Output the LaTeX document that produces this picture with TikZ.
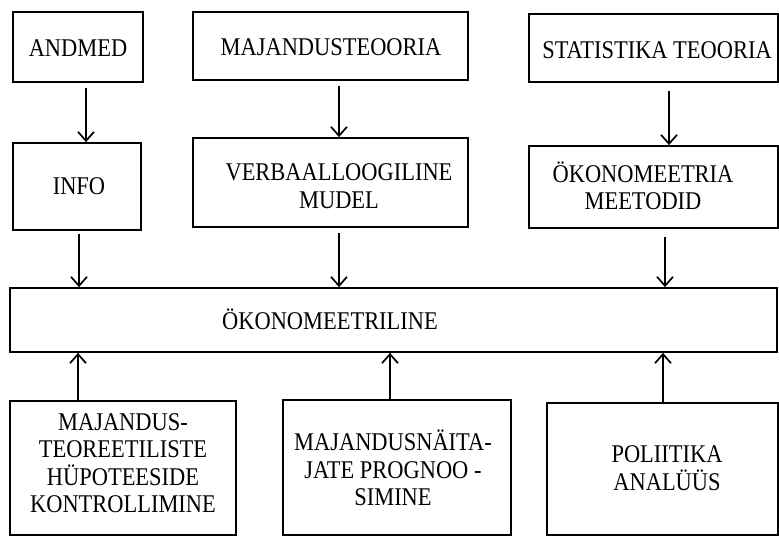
\documentclass[tikz,border=0pt]{standalone}
\usepackage{fontspec}
\setmainfont{Liberation Serif}[FakeStretch=0.88]
\usetikzlibrary{arrows.meta}
\begin{document}
\begin{tikzpicture}[x=1pt,y=-1pt,
  box/.style={draw,line width=1.8pt,inner sep=0pt,minimum width=#1},
  txt/.style={align=center,inner sep=0pt,font=\fontsize{25.5}{27.5}\selectfont},
  arr/.style={line width=1.7pt,-{Straight Barb[length=9pt,width=16pt,line width=1.7pt]}}]
\useasboundingbox (0,0) rectangle (779,537);

% top row: sources
\node[box=130pt,minimum height=70pt] (andmed) at (78,47) {};
\node[box=275pt,minimum height=68pt] (majteo) at (330.5,46) {};
\node[box=249pt,minimum height=68pt] (stat) at (653.5,48) {};
\node[txt] (tandmed) at (78,48) {ANDMED};
\node[txt] (tmajteo) at (331,47) {MAJANDUSTEOORIA};
\node[txt] (tstat) at (657,50) {STATISTIKA TEOORIA};

% second row
\node[box=128pt,minimum height=87pt] (info) at (77,186.5) {};
\node[box=275pt,minimum height=89pt] (verbaal) at (330.5,182.5) {};
\node[box=249pt,minimum height=82pt] (meet) at (653.5,187) {};
\node[txt] (tinfo) at (79,186) {INFO};
\node[txt] (tverbaal) at (339,186) {VERBAALLOOGILINE\\MUDEL};
\node[txt] (tmeet) at (643,186) {ÖKONOMEETRIA\\MEETODID};

% central box
\node[box=767pt,minimum height=64pt] (oko) at (393.5,320) {};
\node[txt] (toko) at (330,319) {ÖKONOMEETRILINE};

% bottom row: applications
\node[box=226pt,minimum height=134pt] (b1) at (123,468) {};
\node[box=228pt,minimum height=135pt] (b2) at (397,467.5) {};
\node[box=231pt,minimum height=132pt] (b3) at (662.5,469) {};
\node[txt] (tb1) at (123,463) {MAJANDUS-\\TEOREETILISTE\\HÜPOTEESIDE\\KONTROLLIMINE};
\node[txt] (tb2) at (393,468) {MAJANDUSNÄITA-\\JATE PROGNOO -\\SIMINE};
\node[txt] (tb3) at (667,468) {POLIITIKA\\ANALÜÜS};

% arrow columns
\coordinate (x1) at (86,0);
\coordinate (x2) at (339,0);
\coordinate (x3) at (669,0);
\coordinate (y1) at (79,0);
\coordinate (y2) at (339,0);
\coordinate (y3) at (665,0);
\coordinate (z1) at (78,0);
\coordinate (z2) at (390,0);
\coordinate (z3) at (663,0);

\draw[arr,shorten <=5pt] (x1 |- andmed.south) -- (x1 |- info.north);
\draw[arr,shorten <=5pt] (x2 |- majteo.south) -- (x2 |- verbaal.north);
\draw[arr,shorten <=8pt] (x3 |- stat.south) -- (x3 |- meet.north);

\draw[arr,shorten <=3pt] (y1 |- info.south) -- (y1 |- oko.north);
\draw[arr,shorten <=5pt] (y2 |- verbaal.south) -- (y2 |- oko.north);
\draw[arr,shorten <=8pt] (y3 |- meet.south) -- (y3 |- oko.north);

\draw[arr] (z1 |- b1.north) -- (z1 |- oko.south);
\draw[arr] (z2 |- b2.north) -- (z2 |- oko.south);
\draw[arr] (z3 |- b3.north) -- (z3 |- oko.south);
\end{tikzpicture}
\end{document}
